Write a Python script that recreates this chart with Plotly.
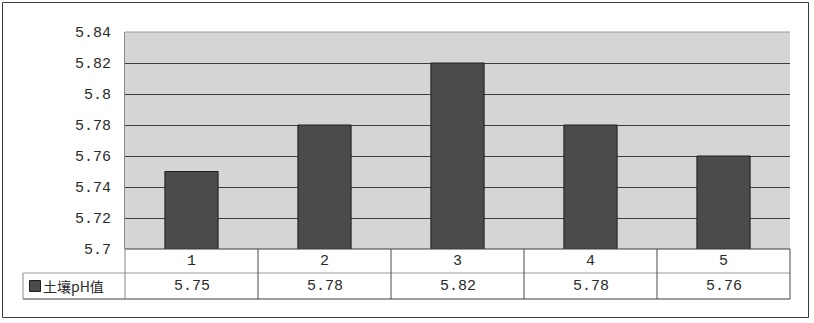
import plotly.graph_objects as go

categories = [1, 2, 3, 4, 5]
ph_values = [5.75, 5.78, 5.82, 5.78, 5.76]
series_name = "土壤pH值"
y_ticks = [5.7, 5.72, 5.74, 5.76, 5.78, 5.8, 5.82, 5.84]
y_tick_labels = ["5.7", "5.72", "5.74", "5.76", "5.78", "5.8", "5.82", "5.84"]

W, H = 814, 323
L, R, T, B = 125, 790, 32, 249
PW, PH = R - L, B - T

def px(p):
    return (p - L) / PW

def py(p):
    return (B - p) / PH

NUM_FONT = "Liberation Mono, DejaVu Sans Mono, monospace"
BAR_COLOR = "#4b4b4b"
LINE = "#4a4a4a"
TXT = "#2a2a2a"

fig = go.Figure()
fig.add_trace(go.Bar(
    x=categories, y=ph_values, width=0.4, name=series_name,
    marker=dict(color=BAR_COLOR, line=dict(color="#1e1e1e", width=1)),
    showlegend=False,
))

shapes = []
shapes.append(dict(type="line", xref="paper", yref="paper", x0=0, x1=1, y0=1, y1=1,
                   line=dict(color="#9a9a9a", width=1), layer="above"))
shapes.append(dict(type="line", xref="paper", yref="paper", x0=0, x1=1, y0=0, y1=0,
                   line=dict(color="#3c3c3c", width=1)))
shapes.append(dict(type="line", xref="paper", yref="paper", x0=px(23), x1=1, y0=py(273), y1=py(273),
                   line=dict(color="#9a9a9a", width=1)))
shapes.append(dict(type="line", xref="paper", yref="paper", x0=px(23), x1=1, y0=py(299), y1=py(299),
                   line=dict(color="#3c3c3c", width=1)))
shapes.append(dict(type="line", xref="paper", yref="paper", x0=px(23), x1=px(23), y0=py(273), y1=py(299),
                   line=dict(color="#8a8a8a", width=1)))
shapes.append(dict(type="line", xref="paper", yref="paper", x0=0, x1=0, y0=0, y1=py(299),
                   line=dict(color="#8a8a8a", width=1)))
for c in categories[:-1]:
    shapes.append(dict(type="line", xref="x", yref="paper", x0=c + 0.5, x1=c + 0.5, y0=0, y1=py(299),
                       line=dict(color=LINE, width=1)))
shapes.append(dict(type="line", xref="paper", yref="paper", x0=1, x1=1, y0=0, y1=py(299),
                   line=dict(color=LINE, width=1)))
shapes.append(dict(type="rect", xref="paper", yref="paper", x0=px(29.5), x1=px(40.5), y0=py(280.5), y1=py(291.5),
                   fillcolor=BAR_COLOR, line=dict(color="#1e1e1e", width=1)))
shapes.append(dict(type="rect", xref="paper", yref="paper", x0=px(2.5), x1=px(808.5), y0=py(317.5), y1=py(2.5),
                   line=dict(color="#3a3a3a", width=1), layer="above"))

annotations = []
for c, v in zip(categories, ph_values):
    annotations.append(dict(x=c, xref="x", y=py(261), yref="paper", text=str(c), showarrow=False,
                            font=dict(family=NUM_FONT, size=15, color=TXT), yanchor="middle"))
    annotations.append(dict(x=c, xref="x", y=py(286), yref="paper", text=f"{v:.2f}", showarrow=False,
                            font=dict(family=NUM_FONT, size=15, color=TXT), yanchor="middle"))
annotations.append(dict(x=px(41), xref="paper", y=py(286), yref="paper", text=series_name, showarrow=False,
                        xanchor="left", yanchor="middle",
                        font=dict(family="Noto Sans CJK SC", size=14, color=TXT)))

fig.update_layout(
    width=W, height=H,
    margin=dict(l=L, r=W - R, t=T, b=H - B, pad=0),
    paper_bgcolor="white",
    plot_bgcolor="#d5d5d5",
    shapes=shapes,
    annotations=annotations,
    xaxis=dict(range=[0.5, 5.5], showticklabels=False, showgrid=False, zeroline=False, ticks=""),
    yaxis=dict(range=[5.7, 5.84], tickvals=y_ticks, ticktext=y_tick_labels,
               showgrid=True, gridcolor="#3c3c3c", gridwidth=1, zeroline=False,
               showline=True, linecolor="#8a8a8a", linewidth=1, ticks="",
               ticklabelstandoff=10,
               tickfont=dict(family=NUM_FONT, size=15, color=TXT)),
)

fig.write_html("out.html")
